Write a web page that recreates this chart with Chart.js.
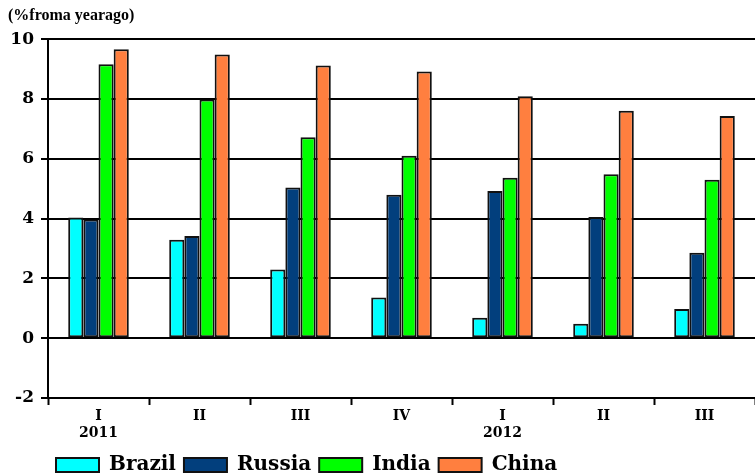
<!DOCTYPE html>
<html>
<head>
<meta charset="utf-8">
<script src="https://cdn.jsdelivr.net/npm/chart.js@4/dist/chart.umd.min.js"></script>
<style>
  html, body { margin: 0; padding: 0; background: #ffffff; overflow: hidden; }
  #wrap { width: 755px; height: 475px; }
</style>
</head>
<body>
<div id="wrap"><canvas id="c" width="755" height="475"></canvas></div>
<script>
// Quarterly real GDP growth, % change from a year ago
const quarters = [['I', '2011'], 'II', 'III', 'IV', ['I', '2012'], 'II', 'III'];
const brazil = [4.04, 3.29, 2.30, 1.36, 0.68, 0.48, 0.98];
const russia = [3.97, 3.42, 5.04, 4.80, 4.92, 4.05, 2.86];
const india  = [9.16, 7.98, 6.72, 6.10, 5.37, 5.48, 5.30];
const china  = [9.66, 9.49, 9.12, 8.92, 8.09, 7.61, 7.43];
const yTicks = [-2, 0, 2, 4, 6, 8, 10];
const unitLabel = '(%froma yearago)';

const serif = 'DejaVu Serif';
const edge = '#111111';

function series(label, data, color) {
  return {
    label: label,
    data: data,
    backgroundColor: color,
    borderColor: edge,
    borderWidth: 2,
    borderSkipped: false
  };
}

new Chart(document.getElementById('c'), {
  type: 'bar',
  data: {
    labels: quarters,
    datasets: [
      series('Brazil', brazil, '#00FFFF'),
      series('Russia', russia, '#023F7D'),
      series('India', india, '#00FF00'),
      series('China', china, '#FF7F3F')
    ]
  },
  options: {
    responsive: false,
    animation: false,
    devicePixelRatio: 1,
    // the legend row sits low, close to the bottom edge
    layout: { padding: { left: 8, right: 0, top: 0, bottom: -10 } },
    datasets: { bar: { categoryPercentage: 0.6, barPercentage: 1.0 } },
    plugins: {
      tooltip: { enabled: false },
      title: {
        display: true,
        text: unitLabel,
        align: 'start',
        color: '#000',
        font: { family: 'Liberation Serif', weight: 'bold', size: 16 },
        padding: { top: 6, bottom: 14 }
      },
      legend: {
        position: 'bottom',
        align: 'start',
        fullSize: false,
        labels: {
          color: '#000',
          boxWidth: 43,
          boxHeight: 14,
          padding: 8,
          font: { family: serif, weight: 'bold', size: 20 }
        }
      }
    },
    scales: {
      x: {
        offset: true,
        afterFit: function (s) { s.height = 49; },
        grid: {
          offset: true,
          drawOnChartArea: false,
          drawTicks: true,
          tickLength: 7,
          tickWidth: 2,
          tickColor: '#000'
        },
        border: { display: true, color: '#000', width: 2 },
        ticks: {
          color: '#000',
          padding: 3,
          maxRotation: 0,
          autoSkip: false,
          font: { family: serif, weight: 'bold', size: 14 }
        }
      },
      y: {
        z: 1,
        min: -2,
        max: 10,
        afterBuildTicks: function (s) { s.ticks = yTicks.map(v => ({ value: v })); },
        afterFit: function (s) { s.width = 40; },
        grid: {
          color: '#000',
          lineWidth: 2,
          drawTicks: true,
          tickLength: 7,
          tickColor: '#000'
        },
        border: { display: true, color: '#000', width: 2 },
        ticks: {
          color: '#000',
          padding: 7,
          font: { family: serif, weight: 'bold', size: 17 }
        }
      }
    }
  }
});
</script>
</body>
</html>
